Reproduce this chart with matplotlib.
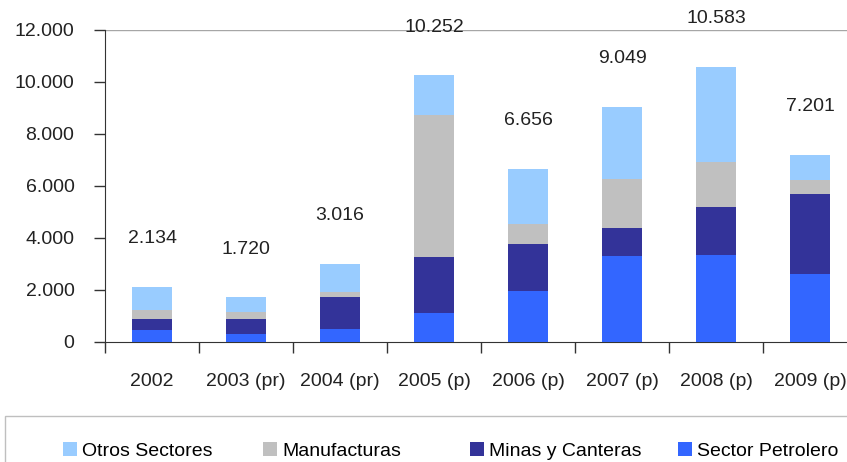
import numpy as np
import matplotlib
matplotlib.use('Agg')
import matplotlib.pyplot as plt
from matplotlib.patches import Rectangle

plt.rcParams['font.family'] = ['Liberation Sans', 'DejaVu Sans']

# datos (millones US$)
anios = ['2002', '2003 (pr)', '2004 (pr)', '2005 (p)', '2006 (p)', '2007 (p)', '2008 (p)', '2009 (p)']
petrolero = [460, 300, 490, 1130, 1975, 3310, 3346, 2615]
minas = [413, 570, 1230, 2130, 1782, 1090, 1834, 3065]
manufacturas = [357, 295, 200, 5470, 783, 1860, 1730, 540]
otros = [904, 555, 1096, 1522, 2116, 2789, 3673, 981]
totales = [2134, 1720, 3016, 10252, 6656, 9049, 10583, 7201]

c_petro = '#3366FF'
c_minas = '#333399'
c_manuf = '#C0C0C0'
c_otros = '#99CCFF'

fig = plt.figure(figsize=(8.47, 4.62), dpi=100)
W, H = 847, 462
ax = fig.add_axes([105 / W, (H - 342) / H, (857 - 105) / W, (342 - 30) / H])

x = np.arange(len(anios))
w = 0.42
b1 = np.array(petrolero)
b2 = b1 + np.array(minas)
b3 = b2 + np.array(manufacturas)
ax.bar(x, petrolero, w, color=c_petro, edgecolor='none', label='Sector Petrolero', zorder=3)
ax.bar(x, minas, w, bottom=b1, color=c_minas, edgecolor='none', label='Minas y Canteras', zorder=3)
ax.bar(x, manufacturas, w, bottom=b2, color=c_manuf, edgecolor='none', label='Manufacturas', zorder=3)
ax.bar(x, otros, w, bottom=b3, color=c_otros, edgecolor='none', label='Otros Sectores', zorder=3)

for i, t in enumerate(totales):
    s = '{:,}'.format(t).replace(',', '.')
    ax.text(i, t + 1850, s, ha='center', va='center', fontsize=14, color='#222222', clip_on=False)

ax.set_xlim(-0.5, len(anios) - 0.5)
ax.set_ylim(0, 12000)
ax.set_yticks(np.arange(0, 12001, 2000))
ax.set_yticklabels(['{:,}'.format(v).replace(',', '.') for v in range(0, 12001, 2000)])
ax.axhline(12000, color='#A6A6A6', lw=1, zorder=1)

ax.set_xticks(x)
ax.set_xticklabels(anios)
ax.set_xticks(np.arange(-0.5, len(anios)), minor=True)
ax.tick_params(axis='x', which='major', length=0, pad=22, labelsize=14, colors='#222222')
ax.tick_params(axis='x', which='minor', length=8, width=1, color='#333333')
ax.tick_params(axis='y', length=8, width=1, pad=14, labelsize=14, colors='#333333', labelcolor='#222222')

for sp in ['top', 'right']:
    ax.spines[sp].set_visible(False)
ax.spines['left'].set_color('#333333')
ax.spines['bottom'].set_color('#333333')

# caja de la leyenda
fig.patches.append(Rectangle((5 / W, -0.2), 2, (H - 416) / H + 0.2, transform=fig.transFigure,
                             facecolor='none', edgecolor='#BFBFBF', lw=1))
h, l = ax.get_legend_handles_labels()
pos_leyenda = [63, 263, 470, 678]
for hh, ll, px in zip(h[::-1], l[::-1], pos_leyenda):
    leg = fig.legend([hh], [ll], loc='center left', bbox_to_anchor=(px / W, (H - 451) / H),
                     frameon=False, fontsize=14, handlelength=0.7, handleheight=0.7,
                     handletextpad=0.3, borderpad=0, borderaxespad=0)

fig.savefig('out.png', dpi=100)
